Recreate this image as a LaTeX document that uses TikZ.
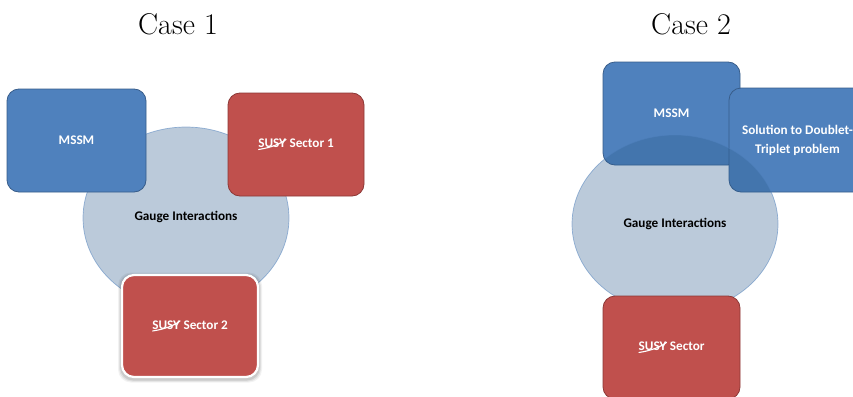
\documentclass[tikz,border=0pt]{standalone}
\usepackage{fontspec}
\newfontfamily\carl{Carlito}
\usetikzlibrary{shapes.geometric,calc}
\definecolor{boxblue}{RGB}{79,129,189}
\definecolor{boxblueline}{RGB}{56,93,138}
\definecolor{boxred}{RGB}{192,80,77}
\definecolor{boxredline}{RGB}{140,56,54}
\definecolor{gaugefill}{RGB}{44,92,142}
\definecolor{gaugeline}{RGB}{79,129,189}
\newcommand\susystrike{\tikz[baseline=(s.base),x=1pt,y=1pt]{\node[rectangle,inner sep=0pt,outer sep=0pt,minimum width=0pt,minimum height=0pt,draw=none,fill=none,text=white](s){SUSY};
  \draw[white,line width=1.1pt,line cap=round,rounded corners=0pt,fill=none] ($(s.south west)+(0.3,-1.5)$) .. controls ($(s.south west)!0.5!(s.south east)+(0,0.5)$) and ($(s.north east)+(-5,-4)$) .. ($(s.north east)+(0,-0.3)$);}}
\tikzset{
  titlenode/.style={font=\fontsize{30}{36}\selectfont, inner sep=0pt},
  box/.style={rectangle, rounded corners=12pt, line width=0.8pt, minimum width=137pt, minimum height=103pt,
    text=white, font=\carl\bfseries\fontsize{13.2}{19}\selectfont, align=center, inner sep=0pt},
  bluebox/.style={box, fill=boxblue, draw=boxblueline},
  redbox/.style={box, fill=boxred, draw=boxredline},
  gauge/.style={ellipse, minimum width=206pt, fill=gaugefill, fill opacity=0.32, draw=gaugeline, draw opacity=0.55,
    line width=0.7pt, inner sep=0pt},
  gaugetext/.style={font=\carl\bfseries\fontsize{13.2}{16}\selectfont, inner sep=0pt},
}
\begin{document}
\begin{tikzpicture}[x=1pt,y=-1pt]
\useasboundingbox (0,0) rectangle (853,396);
\fill[white] (0,0) rectangle (853,396);
\clip (0,0) rectangle (853,396);
% titles
\node[titlenode] (t1) at (178,24) {Case 1};
\node[titlenode] (t2) at (691,24) {Case 2};
% ---- Case 1
\node[gauge, minimum height=182pt] (g1) at (186,218) {};
\node[gaugetext] (g1t) at (186,217) {Gauge Interactions};
\node[bluebox, minimum width=139pt] (m1) at (76.5,140.5) {MSSM};
\node[redbox, minimum width=136pt] (s1) at (296,144.5) {\susystrike{} Sector 1};
% shadow for sector 2
\foreach \e/\o in {4/0.05,3/0.07,2/0.09}{
  \fill[black, opacity=\o, rounded corners=13pt] (122-\e,275-\e+1.5) rectangle (258+\e,377+\e+1.5);
}
\node[redbox, minimum width=136pt, minimum height=102pt, draw=white, line width=2.2pt] (s2) at (190,326) {\susystrike{} Sector 2};
% ---- Case 2
\node[bluebox] (m2) at (671.5,113.5) {MSSM};
\node[bluebox, minimum height=104pt] (sol) at (797.5,140) {Solution to Doublet-\\Triplet problem};
\node[gauge, minimum height=178pt] (g2) at (675,224) {};
\node[gaugetext] (g2t) at (675,224) {Gauge Interactions};
\node[redbox] (s3) at (671.5,347.5) {\susystrike{} Sector};
\end{tikzpicture}
\end{document}
